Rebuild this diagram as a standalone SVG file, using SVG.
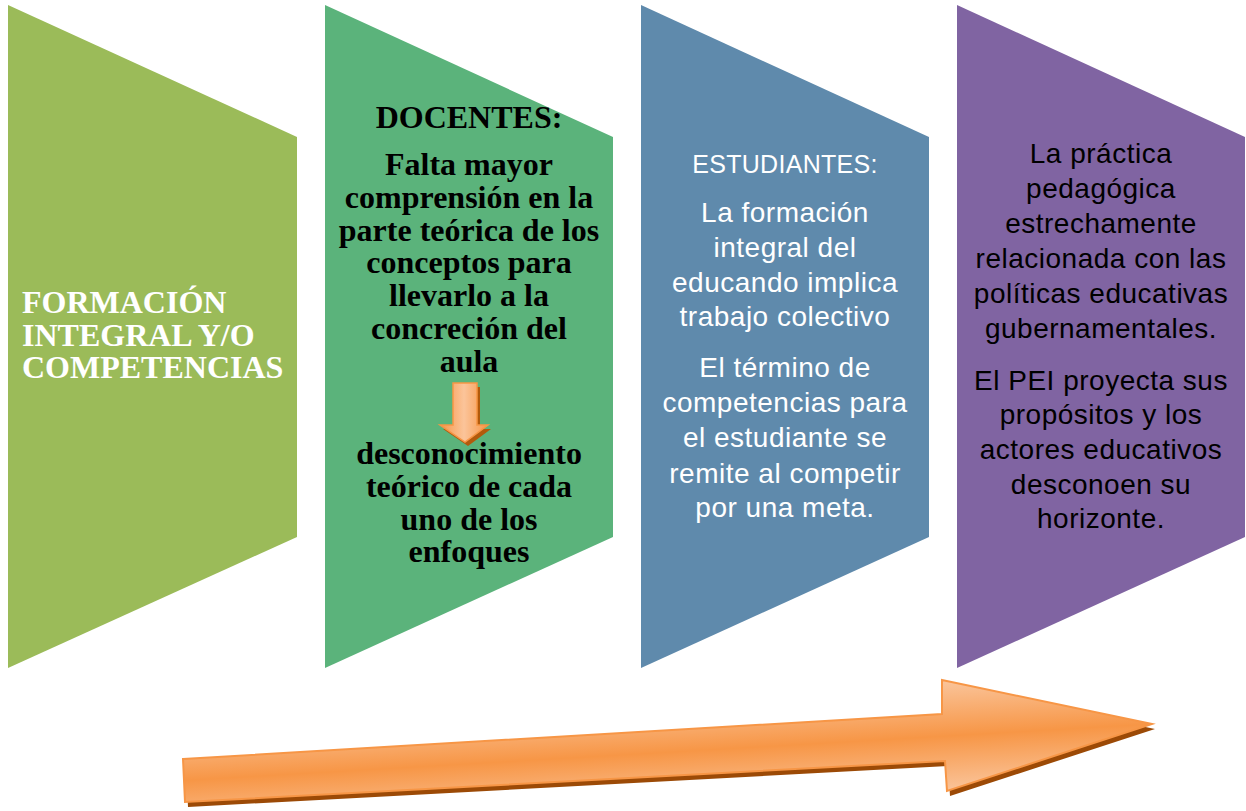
<svg xmlns="http://www.w3.org/2000/svg" width="1246" height="811" viewBox="0 0 1246 811">
<style>
.serif{font-family:"Liberation Serif","Times New Roman",serif;font-weight:bold;font-size:32px;}
.sans{font-family:"Liberation Sans",Arial,sans-serif;font-size:28px;letter-spacing:0.5px;}
.w{fill:#ffffff;}
.k{fill:#000000;}
</style>
<defs>
<linearGradient id="bigGrad" gradientUnits="userSpaceOnUse" x1="556.8" y1="703.7" x2="563.2" y2="813.5">
<stop offset="0" stop-color="#FAC49A"/>
<stop offset="0.5" stop-color="#F79646"/>
<stop offset="1" stop-color="#FAC49A"/>
</linearGradient>
<linearGradient id="smallGrad" x1="0" y1="0" x2="1" y2="0">
<stop offset="0" stop-color="#F79646"/>
<stop offset="0.5" stop-color="#FBC49A"/>
<stop offset="1" stop-color="#F79646"/>
</linearGradient>
</defs>
<rect width="1246" height="811" fill="#ffffff"/>

<g id="panel1">
<polygon points="8,5 297,137 297,537 8,668" fill="#9BBB59"/>
<text class="serif w" x="22" y="313">FORMACIÓN</text>
<text class="serif w" x="22" y="346">INTEGRAL Y/O</text>
<text class="serif w" x="22" y="378">COMPETENCIAS</text>
</g>

<g id="panel2">
<polygon points="325,5 613,137 613,537 325,668" fill="#5BB37B"/>
<g class="serif k" text-anchor="middle">
<text x="469" y="128">DOCENTES:</text>
<text x="469" y="175">Falta mayor</text>
<text x="469" y="208">comprensión en la</text>
<text x="469" y="241">parte teórica de los</text>
<text x="469" y="273">conceptos para</text>
<text x="469" y="306">llevarlo a la</text>
<text x="469" y="339">concreción del</text>
<text x="469" y="372">aula</text>
<text x="469" y="464">desconocimiento</text>
<text x="469" y="497">teórico de cada</text>
<text x="469" y="530">uno de los</text>
<text x="469" y="562">enfoques</text>
</g>
</g>

<g id="panel3">
<polygon points="641,5 929,137 929,537 641,668" fill="#5F8AAC"/>
<g class="sans w" text-anchor="middle">
<text x="785" y="173" font-size="25" letter-spacing="0.3">ESTUDIANTES:</text>
<text x="785" y="222">La formación</text>
<text x="785" y="257">integral del</text>
<text x="785" y="292">educando implica</text>
<text x="785" y="326">trabajo colectivo</text>
<text x="785" y="377">El término de</text>
<text x="785" y="412">competencias para</text>
<text x="785" y="447">el estudiante se</text>
<text x="785" y="483">remite al competir</text>
<text x="785" y="517">por una meta.</text>
</g>
</g>

<g id="panel4">
<polygon points="957,5 1245,137 1245,537 957,668" fill="#8064A2"/>
<g class="sans k" text-anchor="middle">
<text x="1101" y="163">La práctica</text>
<text x="1101" y="198">pedagógica</text>
<text x="1101" y="233">estrechamente</text>
<text x="1101" y="268">relacionada con las</text>
<text x="1101" y="303">políticas educativas</text>
<text x="1101" y="338">gubernamentales.</text>
<text x="1101" y="390">El PEI proyecta sus</text>
<text x="1101" y="424">propósitos y los</text>
<text x="1101" y="459">actores educativos</text>
<text x="1101" y="494">desconoen su</text>
<text x="1101" y="528">horizonte.</text>
</g>
</g>

<g id="connectors">
<g id="small-arrow">
<polygon points="456,387 480,387 480,429 491,429 468,446 443,429 456,429" fill="#B25A0C"/>
<polygon points="453,383 477,383 477,425 488,425 465,442 440,425 453,425" fill="url(#smallGrad)" stroke="#F79646" stroke-width="1.5" stroke-linejoin="miter"/>
</g>
<g id="big-arrow">
<polygon points="186,764 945,719 945,685 1155,729 950,796 948,766 188,807" fill="#9C4A06"/>
<polygon points="183,759 942,714 942,680 1152,724 947,791 945,761 185,802" fill="url(#bigGrad)" stroke="#F79646" stroke-width="2" stroke-linejoin="miter"/>
</g>
</g>
</svg>
